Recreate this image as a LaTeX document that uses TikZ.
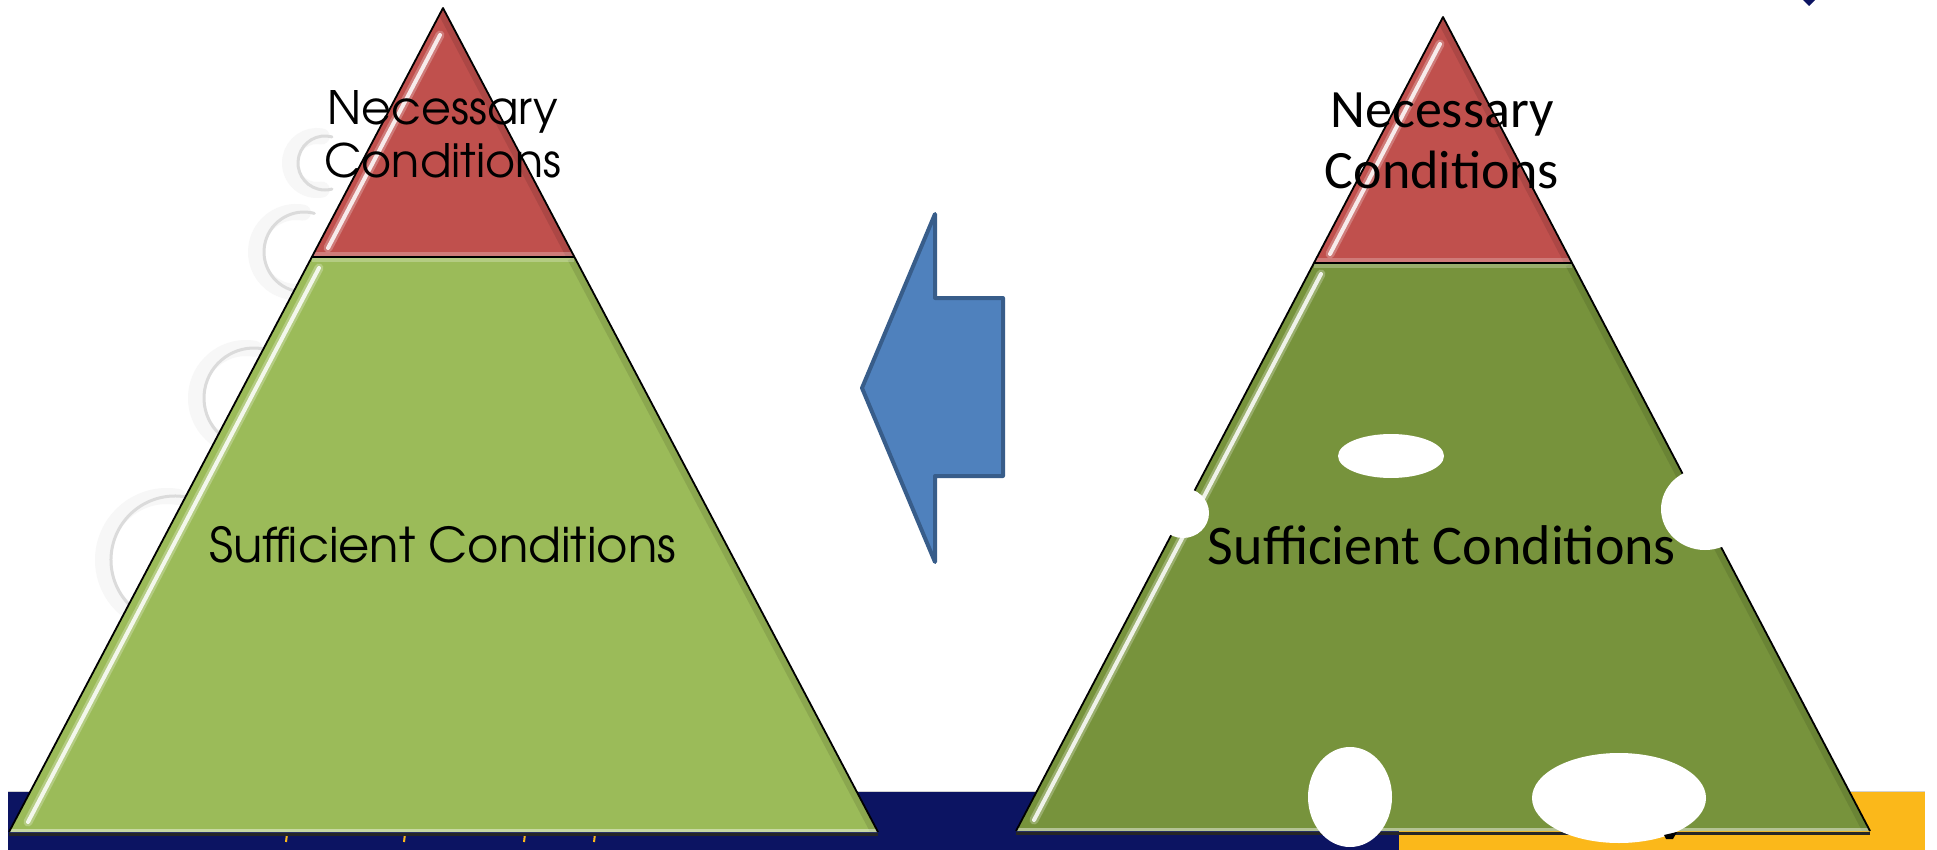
\documentclass[tikz,border=0pt]{standalone}
\usepackage{fontspec}
\newfontfamily\gothic{TeX Gyre Adventor}
\newfontfamily\calib{Carlito}
\definecolor{nred}{HTML}{C0504D}
\definecolor{lgreen}{HTML}{9BBB59}
\definecolor{dgreen}{HTML}{77933C}
\definecolor{arrowfill}{HTML}{4F81BD}
\definecolor{arrowline}{HTML}{385D8A}
\definecolor{navyband}{HTML}{0C1462}
\definecolor{yellowband}{HTML}{FBB81A}
\begin{document}
\begin{tikzpicture}[x=1pt,y=-1pt,
  swirl/.style={gray!28, line width=3pt, line cap=round},
  swirlglow/.style={gray!6, line width=16pt, line cap=round},
  edgeline/.style={black, line width=1.8pt, line join=round},
  shadowline/.style={black!85, line width=3pt},
  shine/.style={white, line width=4pt, line cap=round, opacity=.85},
  glow/.style={white, line width=9pt, line cap=round, opacity=.25},
  topbevel/.style={white, line width=10pt, opacity=.25},
  sidebevel/.style={black, line width=14pt, opacity=.10},
  botbevel/.style={white, line width=6pt, opacity=.45},
  blob/.style={fill=white, draw=none},
  bigarrow/.style={fill=arrowfill, draw=arrowline, line width=4pt, line join=round},
  leftlbl/.style={font=\gothic\fontsize{46}{53}\selectfont, inner sep=0pt, align=center},
  leftbig/.style={font=\gothic\fontsize{48}{55}\selectfont, inner sep=0pt, align=center},
  rightlbl/.style={font=\calib\fontsize{54}{61}\selectfont, inner sep=0pt, align=center},
  rightbig/.style={font=\calib\fontsize{56}{63}\selectfont, inner sep=0pt, align=center}
]
\useasboundingbox (0,0) rectangle (1937,850);
\fill[white] (0,0) rectangle (1937,850);

% faint background swirls
\foreach \cx/\cy/\r in {325/163/27, 304/252/40, 254/398/50, 175/560/64}{
  \draw[swirlglow] (\cx-8,\cy) ++(80:\r pt) arc[start angle=80, end angle=280, radius=\r pt];
  \draw[swirl] (\cx,\cy) ++(75:\r pt) arc[start angle=75, end angle=285, radius=\r pt];
}

% bottom band
\fill[navyband] (8,792) rectangle (1399,850);
\fill[yellowband] (1399,792) rectangle (1925,850);
\draw[gray!35, line width=1pt] (8,791) -- (1925,791);
\foreach \x in {287,405,525,595}
  \draw[yellowband, line width=2pt] (\x,834) -- (\x-1,842);

% small mark top right
\fill[navyband] (1803,0) -- (1815,0) -- (1809,6) -- cycle;

% ---------- left pyramid ----------
\coordinate (LA) at (443,8);
\coordinate (LDl) at (312,257);
\coordinate (LDr) at (574,257);
\coordinate (LBl) at (9,832);
\coordinate (LBr) at (878,832);

\draw[shadowline] ([yshift=-2pt]LBl) -- ([yshift=-2pt]LBr);
\fill[nred] (LA) -- (LDr) -- (LDl) -- cycle;
\fill[lgreen] (LDl) -- (LDr) -- (LBr) -- (LBl) -- cycle;
\begin{scope}
  \clip (LA) -- (LDr) -- (LDl) -- cycle;
  \draw[sidebevel] (LA) -- (LDr);
  \draw[topbevel] (LDl) -- (LDr);
\end{scope}
\begin{scope}
  \clip (LDl) -- (LDr) -- (LBr) -- (LBl) -- cycle;
  \draw[sidebevel] (LDr) -- (LBr);
  \draw[topbevel] (LDl) -- (LDr);
  \draw[botbevel] (LBl) -- (LBr);
\end{scope}
\draw[glow] (319,268) -- (28,822);
\draw[shine] (319,268) -- (28,822);
\draw[glow] (440,35) -- (328,248);
\draw[shine] (440,35) -- (328,248);
\draw[edgeline] (LBl) -- (LA) -- (LBr);
\draw[edgeline] (LDl) -- (LDr);

% ---------- right pyramid ----------
\coordinate (RA) at (1443,17);
\coordinate (RDl) at (1314,263);
\coordinate (RDr) at (1572,263);
\coordinate (RBl) at (1016,831);
\coordinate (RBr) at (1870,831);

\draw[shadowline] ([yshift=-2pt]RBl) -- ([yshift=-2pt]RBr);
\fill[nred] (RA) -- (RDr) -- (RDl) -- cycle;
\fill[dgreen] (RDl) -- (RDr) -- (RBr) -- (RBl) -- cycle;
\begin{scope}
  \clip (RA) -- (RDr) -- (RDl) -- cycle;
  \draw[sidebevel] (RA) -- (RDr);
  \draw[topbevel] (RDl) -- (RDr);
\end{scope}
\begin{scope}
  \clip (RDl) -- (RDr) -- (RBr) -- (RBl) -- cycle;
  \draw[sidebevel] (RDr) -- (RBr);
  \draw[topbevel] (RDl) -- (RDr);
  \draw[botbevel] (RBl) -- (RBr);
\end{scope}
\draw[glow] (1321,274) -- (1034,820);
\draw[shine] (1321,274) -- (1034,820);
\draw[glow] (1440,44) -- (1330,254);
\draw[shine] (1440,44) -- (1330,254);
\draw[edgeline] (RBl) -- (RA) -- (RBr);
\draw[edgeline] (RDl) -- (RDr);

% white blobs on the right pyramid
\fill[blob] (1391,456) ellipse [x radius=53pt, y radius=22pt];
\fill[blob] (1183,513) ellipse [x radius=26pt, y radius=25pt];
\fill[blob] (1705,509) ellipse [x radius=44pt, y radius=41pt];
\fill[blob] (1350,797) ellipse [x radius=42pt, y radius=50pt];
\fill[blob] (1619,798) ellipse [x radius=87pt, y radius=45pt];
\fill[black] (1664,835) -- (1677,832) -- (1673,839) -- (1666,839) -- cycle;

% arrow
\draw[bigarrow] (862,388) -- (935,214) -- (935,298) -- (1003,298) -- (1003,476) -- (935,476) -- (935,562) -- cycle;

% labels
\node[leftlbl, anchor=north] (necL) at (443,90) {Necessary\\Conditions};
\node[leftbig, anchor=base] (sufL) at (443,562) {Sufficient Conditions};
\node[rightlbl, anchor=north] (necR) at (1442,93) {Necessary\\Conditions};
\node[rightbig, anchor=base] (sufR) at (1442,564) {Sufficient Conditions};
\end{tikzpicture}
\end{document}
